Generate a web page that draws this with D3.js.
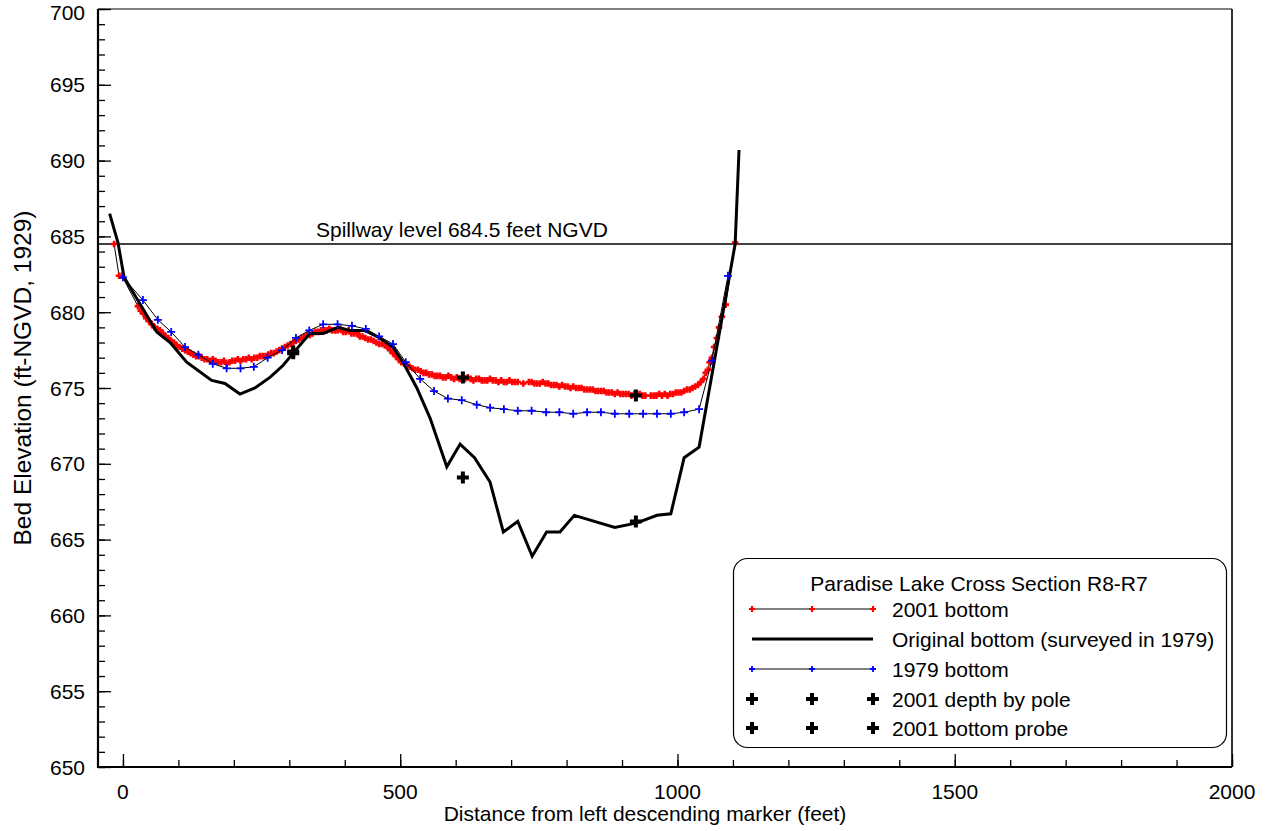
<!DOCTYPE html>
<html>
<head>
<meta charset="utf-8">
<script src="https://cdn.jsdelivr.net/npm/d3@7"></script>
<style>
  html, body { margin: 0; padding: 0; background: #fff; }
  svg { display: block; font-family: "Liberation Sans", Arial, sans-serif; }
</style>
</head>
<body>
<svg id="chart" width="1267" height="831"></svg>
<script>
// Paradise Lake cross section R8-R7: distance (ft) vs bed elevation (ft NGVD 1929)

// 2001 bottom survey (red markers)
const bottom2001 = [
  [-16,684.5],[-7,682.4],[-2,682.4],
  [27,680.4],[32,680.1],[37,679.9],[42,679.6],[47,679.4],[52,679.2],[57,679.0],[62,678.9],
  [67,678.8],[72,678.6],[77,678.4],[82,678.3],[87,678.1],[92,678.0],[97,677.8],[102,677.7],
  [107,677.6],[112,677.5],[117,677.4],[122,677.3],[127,677.2],[132,677.1],[137,677.1],[142,677.0],
  [147,676.9],[152,676.9],[157,676.8],[162,676.9],[167,676.8],[172,676.7],[177,676.7],[182,676.8],
  [187,676.6],[192,676.7],[197,676.8],[202,676.8],[207,676.9],[212,676.8],[217,676.9],[222,676.9],
  [227,677.0],[232,676.9],[237,677.0],[242,677.0],[247,677.1],[252,677.1],[257,677.1],[262,677.2],
  [267,677.3],[272,677.3],[277,677.4],[282,677.5],[287,677.6],[292,677.7],[297,677.8],[302,677.9],
  [307,678.0],[312,678.1],[317,678.2],[322,678.3],[327,678.4],[332,678.5],[337,678.5],[342,678.6],
  [347,678.7],[352,678.7],[357,678.8],[362,678.8],[367,678.8],[372,678.9],[377,678.8],[382,678.8],
  [387,678.8],[392,678.9],[397,678.7],[402,678.7],[407,678.8],[412,678.6],[417,678.6],[422,678.6],
  [427,678.4],[432,678.4],[437,678.3],[442,678.2],[447,678.2],[452,678.1],[457,678.0],[462,677.9],
  [467,677.9],[472,677.8],[477,677.7],[482,677.5],[487,677.3],[492,677.1],[497,676.9],[502,676.7],
  [507,676.6],[512,676.5],[517,676.4],[522,676.3],[527,676.2],[532,676.2],[537,676.1],[542,676.0],
  [547,676.0],[552,675.9],[557,675.9],[562,675.8],[567,675.8],[572,675.8],[577,675.7],[582,675.7],
  [587,675.8],[592,675.7],[597,675.6],[602,675.7],[607,675.6],[612,675.6],[617,675.6],[622,675.7],
  [627,675.6],[632,675.5],[637,675.6],[642,675.6],[647,675.5],[652,675.5],[657,675.5],[662,675.6],
  [667,675.5],[672,675.5],[677,675.4],[682,675.5],[687,675.4],[692,675.4],[697,675.5],[702,675.4],
  [707,675.4],[712,675.4],[722,675.3],[732,675.4],[737,675.4],[742,675.3],[747,675.3],[752,675.3],
  [757,675.4],[762,675.3],[767,675.3],[772,675.2],[777,675.2],[782,675.2],[787,675.1],[792,675.2],
  [797,675.1],[802,675.1],[807,675.0],[812,675.1],[817,675.0],[822,675.0],[827,675.0],[832,674.9],
  [837,674.9],[842,674.9],[847,674.9],[852,674.8],[857,674.8],[862,674.8],[867,674.8],[872,674.7],
  [877,674.7],[882,674.7],[887,674.6],[892,674.7],[897,674.6],[902,674.6],[907,674.6],[912,674.6],
  [917,674.5],[922,674.6],[927,674.6],[932,674.6],[937,674.5],[942,674.5],[952,674.5],[957,674.5],
  [962,674.5],[967,674.6],[972,674.5],[977,674.6],[982,674.5],[987,674.6],[992,674.6],[997,674.7],
  [1002,674.7],[1007,674.7],[1012,674.8],[1017,674.9],[1022,674.9],[1027,675.0],[1032,675.1],[1037,675.2],
  [1042,675.4],[1047,675.6],[1051,676.0],[1055,676.2],[1058,676.7],[1062,677.0],[1066,677.7],
  [1071,678.3],[1075,679.0],[1080,679.7],[1087,680.5],[1104,684.6]
];

// Original bottom surveyed in 1979 (thick black line)
const originalBottom = [
  [-24,686.5],[-9,684.6],[2,682.3],[61,678.7],[85,678.0],[115,676.7],[160,675.5],[184,675.3],
  [211,674.6],[238,675.0],[265,675.7],[289,676.5],[307,677.3],[337,678.6],[361,678.6],[388,679.0],
  [409,678.8],[436,678.8],[463,678.3],[487,677.7],[505,676.7],[530,675.0],[554,673.0],[584,669.8],
  [608,671.3],[634,670.4],[662,668.8],[686,665.5],[712,666.2],[738,663.9],[764,665.5],[788,665.5],
  [814,666.6],[887,665.8],[927,666.1],[963,666.6],[988,666.7],[1012,670.4],[1039,671.1],
  [1104,684.5],[1111,690.7]
];

// 1979 bottom (blue markers)
const bottom1979 = [
  [0,682.3],[36,680.8],[63,679.5],[87,678.7],[112,677.7],[136,677.2],[162,676.6],[187,676.3],
  [212,676.3],[236,676.4],[261,677.0],[287,677.5],[312,678.3],[336,678.8],[361,679.2],[387,679.2],
  [413,679.1],[438,678.9],[462,678.4],[487,677.9],[510,676.7],[536,675.6],[561,674.8],[586,674.3],
  [611,674.2],[638,673.9],[662,673.7],[687,673.6],[712,673.5],[737,673.5],[763,673.4],[787,673.4],
  [812,673.3],[837,673.4],[862,673.4],[887,673.3],[913,673.3],[938,673.3],[963,673.3],[988,673.3],
  [1012,673.4],[1039,673.6],[1062,676.8],[1091,682.4]
];

// 2001 spot measurements
const depthByPole = [[307,677.3],[613,675.7],[925,674.5]];
const bottomProbe = [[307,677.4],[613,669.1],[925,666.2]];

const spillwayLevel = 684.5;
const spillwayLabel = "Spillway level 684.5 feet NGVD";

const xMajorTicks = [0, 500, 1000, 1500, 2000];
const yMajorTicks = [650, 655, 660, 665, 670, 675, 680, 685, 690, 695, 700];

const legendTitle = "Paradise Lake Cross Section R8-R7";
const legendLabels = ["2001 bottom", "Original bottom (surveyed in 1979)", "1979 bottom",
                      "2001 depth by pole", "2001 bottom probe"];

const xTitle = "Distance from left descending marker (feet)";
const yTitle = "Bed Elevation (ft-NGVD, 1929)";

// ---- layout ----
const plot = { left: 98, right: 1232, top: 9, bottom: 767 };
const FONT = 21;

const svg = d3.select("#chart");
const x = d3.scaleLinear().domain([-45, 2000]).range([plot.left, plot.right]);
const y = d3.scaleLinear().domain([650, 700]).range([plot.bottom, plot.top]);

const line = d3.line().x(d => x(d[0])).y(d => y(d[1]));
const plusPath = s => `M${-s},0H${s}M0,${-s}V${s}`;

// frame: thin top/right, heavier left/bottom
svg.append("line").attr("x1", plot.left).attr("x2", plot.right).attr("y1", plot.top).attr("y2", plot.top)
  .attr("stroke", "#000").attr("stroke-width", 1.2);
svg.append("line").attr("x1", plot.right).attr("x2", plot.right).attr("y1", plot.top).attr("y2", plot.bottom)
  .attr("stroke", "#000").attr("stroke-width", 1.6);

// minor + major ticks drawn inward
const gx = svg.append("g").attr("transform", `translate(0,${plot.bottom})`);
gx.call(d3.axisTop(x).tickValues(d3.range(0, 2001, 100)).tickSize(7).tickFormat(""));
gx.call(g => g.append("g").call(d3.axisTop(x).tickValues(xMajorTicks).tickSize(13).tickFormat("")));
gx.selectAll(".domain").remove();
gx.selectAll("line").attr("stroke", "#000").attr("stroke-width", 1.3);

const gy = svg.append("g").attr("transform", `translate(${plot.left},0)`);
gy.call(d3.axisRight(y).tickValues(d3.range(650, 701, 1)).tickSize(7).tickFormat(""));
gy.call(g => g.append("g").call(d3.axisRight(y).tickValues(yMajorTicks).tickSize(13).tickFormat("")));
gy.selectAll(".domain").remove();
gy.selectAll("line").attr("stroke", "#000").attr("stroke-width", 1.3);

svg.append("line").attr("x1", plot.left).attr("x2", plot.left).attr("y1", plot.top).attr("y2", plot.bottom + 1)
  .attr("stroke", "#000").attr("stroke-width", 2.2);
svg.append("line").attr("x1", plot.left - 1).attr("x2", plot.right).attr("y1", plot.bottom).attr("y2", plot.bottom)
  .attr("stroke", "#000").attr("stroke-width", 2.2);

// tick labels
svg.append("g").selectAll("text").data(xMajorTicks).join("text")
  .attr("x", d => x(d)).attr("y", plot.bottom + 32)
  .attr("text-anchor", "middle").attr("font-size", FONT).attr("fill", "#000")
  .text(d => d);
svg.append("g").selectAll("text").data(yMajorTicks).join("text")
  .attr("x", plot.left - 13).attr("y", d => Math.max(y(d), 12)).attr("dy", "0.36em")
  .attr("text-anchor", "end").attr("font-size", FONT).attr("fill", "#000")
  .text(d => d);

// axis titles
svg.append("text").attr("x", 645).attr("y", 821)
  .attr("text-anchor", "middle").attr("font-size", FONT).text(xTitle);
svg.append("text").attr("transform", `translate(31,378) rotate(-90)`)
  .attr("text-anchor", "middle").attr("font-size", 24.5).text(yTitle);

// spillway reference line
svg.append("line").attr("x1", plot.left).attr("x2", plot.right)
  .attr("y1", y(spillwayLevel)).attr("y2", y(spillwayLevel))
  .attr("stroke", "#000").attr("stroke-width", 1.3);
svg.append("text").attr("x", 316).attr("y", y(spillwayLevel) - 7)
  .attr("font-size", FONT).text(spillwayLabel);

// 2001 bottom
svg.append("path").datum(bottom2001).attr("d", line)
  .attr("fill", "none").attr("stroke", "#000").attr("stroke-width", 1);
svg.append("g").selectAll("path").data(bottom2001).join("path")
  .attr("transform", d => `translate(${x(d[0])},${y(d[1])})`)
  .attr("d", plusPath(3.3)).attr("stroke", "#ff0000").attr("stroke-width", 2.6);

// original bottom
svg.append("path").datum(originalBottom).attr("d", line)
  .attr("fill", "none").attr("stroke", "#000").attr("stroke-width", 3).attr("stroke-linejoin", "miter");

// 1979 bottom
svg.append("path").datum(bottom1979).attr("d", line)
  .attr("fill", "none").attr("stroke", "#000").attr("stroke-width", 1);
svg.append("g").selectAll("path").data(bottom1979).join("path")
  .attr("transform", d => `translate(${x(d[0])},${y(d[1])})`)
  .attr("d", plusPath(4)).attr("stroke", "#0000ff").attr("stroke-width", 1.8);

// spot measurements
[depthByPole, bottomProbe].forEach(pts => {
  svg.append("g").selectAll("path").data(pts).join("path")
    .attr("transform", d => `translate(${x(d[0])},${y(d[1])})`)
    .attr("d", plusPath(6)).attr("stroke", "#000").attr("stroke-width", 4);
});

// legend
const lg = svg.append("g");
lg.append("rect").attr("x", 733.5).attr("y", 558.5).attr("width", 493).attr("height", 189)
  .attr("rx", 14).attr("ry", 14).attr("fill", "#fff").attr("stroke", "#000").attr("stroke-width", 1.2);
lg.append("text").attr("x", 979).attr("y", 583).attr("dy", "0.36em")
  .attr("text-anchor", "middle").attr("font-size", FONT).text(legendTitle);

const rowY = [609, 639, 669, 699, 728];
const sampleX = [752, 812, 873];
const textX = 892;
legendLabels.forEach((lab, i) => {
  lg.append("text").attr("x", textX).attr("y", rowY[i]).attr("dy", "0.36em")
    .attr("font-size", FONT).text(lab);
});
// row 0: 2001 bottom
lg.append("line").attr("x1", sampleX[0]).attr("x2", sampleX[2]).attr("y1", rowY[0]).attr("y2", rowY[0])
  .attr("stroke", "#000").attr("stroke-width", 1);
lg.append("g").selectAll("path").data(sampleX).join("path")
  .attr("transform", d => `translate(${d},${rowY[0]})`)
  .attr("d", plusPath(3)).attr("stroke", "#ff0000").attr("stroke-width", 2.2);
// row 1: original bottom
lg.append("line").attr("x1", sampleX[0]).attr("x2", sampleX[2]).attr("y1", rowY[1]).attr("y2", rowY[1])
  .attr("stroke", "#000").attr("stroke-width", 3);
// row 2: 1979 bottom
lg.append("line").attr("x1", sampleX[0]).attr("x2", sampleX[2]).attr("y1", rowY[2]).attr("y2", rowY[2])
  .attr("stroke", "#000").attr("stroke-width", 1);
lg.append("g").selectAll("path").data(sampleX).join("path")
  .attr("transform", d => `translate(${d},${rowY[2]})`)
  .attr("d", plusPath(3)).attr("stroke", "#0000ff").attr("stroke-width", 1.8);
// rows 3-4: spot measurements
[3, 4].forEach(r => {
  lg.append("g").selectAll("path").data(sampleX).join("path")
    .attr("transform", d => `translate(${d},${rowY[r]})`)
    .attr("d", plusPath(6)).attr("stroke", "#000").attr("stroke-width", 4);
});
</script>
</body>
</html>
